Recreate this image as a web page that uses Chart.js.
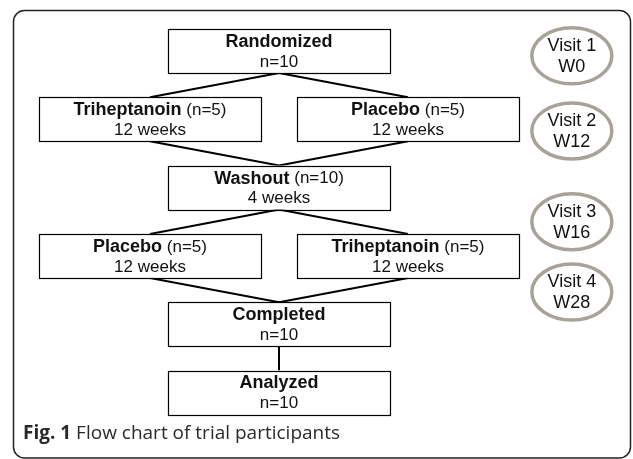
<!DOCTYPE html>
<html>
<head>
<meta charset="utf-8">
<script src="https://cdn.jsdelivr.net/npm/chart.js@4"></script>
<style>
  html, body { margin: 0; padding: 0; background: #fff; }
  #wrap { width: 633px; height: 459px; }
</style>
</head>
<body>
<div id="wrap"><canvas id="flowChart" width="633" height="459"></canvas></div>
<script>
// Flow chart data
const nodeBold = ['Randomized', 'Triheptanoin', 'Placebo', 'Washout', 'Placebo', 'Triheptanoin', 'Completed', 'Analyzed'];
const nodeNote = ['', ' (n=5)', ' (n=5)', ' (n=10)', ' (n=5)', ' (n=5)', '', ''];
const nodeSub = ['n=10', '12 weeks', '12 weeks', '4 weeks', '12 weeks', '12 weeks', 'n=10', 'n=10'];
const nodeCol = [1, 0, 2, 1, 0, 2, 1, 1];
const nodeRow = [0, 1, 1, 2, 3, 3, 4, 5];
const links = [[0, 1], [0, 2], [1, 3], [2, 3], [3, 4], [3, 5], [4, 6], [5, 6], [6, 7]];

const visitLabels = ['Visit 1', 'Visit 2', 'Visit 3', 'Visit 4'];
const visitWeeks = ['W0', 'W12', 'W16', 'W28'];
const visitCol = [3.27, 3.27, 3.27, 3.27];
const visitRow = [0.07, 1.17, 2.5, 3.53];

const captionBold = 'Fig. 1';
const captionText = ' Flow chart of trial participants';

// Sizes (px)
const BOX_W = 222, BOX_H = 44;
const VISIT_RX = 40, VISIT_RY = 28;
const FONT = '"Liberation Sans", Arial, sans-serif';

const flowPlugin = {
    id: 'flowPlugin',
    beforeDraw(chart) {
        const ctx = chart.ctx;
        ctx.save();
        ctx.fillStyle = '#fff';
        ctx.fillRect(0, 0, chart.width, chart.height);
        // outer frame
        ctx.strokeStyle = '#222';
        ctx.lineWidth = 1.5;
        ctx.beginPath();
        ctx.roundRect(13.5, 10.5, 617, 447.5, 11);
        ctx.stroke();
        ctx.restore();
    },
    afterDatasetsDraw(chart) {
        const ctx = chart.ctx;
        const xs = chart.scales.x, ys = chart.scales.y;
        const px = i => xs.getPixelForValue(nodeCol[i]);
        const py = i => ys.getPixelForValue(nodeRow[i]);
        ctx.save();

        // connectors
        ctx.strokeStyle = '#000';
        ctx.lineWidth = 2;
        links.forEach(([a, b]) => {
            ctx.beginPath();
            ctx.moveTo(px(a), py(a) + BOX_H / 2);
            ctx.lineTo(px(b), py(b) - BOX_H / 2);
            ctx.stroke();
        });

        // boxes
        ctx.lineWidth = 1.2;
        ctx.textBaseline = 'middle';
        const boldFont = 'bold 18px ' + FONT;
        const normFont = '17px ' + FONT;
        nodeBold.forEach((label, i) => {
            const cx = px(i), cy = py(i);
            ctx.fillStyle = '#fff';
            ctx.fillRect(cx - BOX_W / 2, cy - BOX_H / 2, BOX_W, BOX_H);
            ctx.strokeRect(Math.round(cx - BOX_W / 2) + 0.5, Math.round(cy - BOX_H / 2) + 0.5, BOX_W, BOX_H);

            ctx.fillStyle = '#111';
            ctx.font = boldFont;
            const wb = ctx.measureText(label).width;
            ctx.font = normFont;
            const wn = ctx.measureText(nodeNote[i]).width;
            const x0 = cx - (wb + wn) / 2;
            ctx.textAlign = 'left';
            ctx.font = boldFont;
            ctx.fillText(label, x0, cy - 9);
            ctx.font = normFont;
            ctx.fillText(nodeNote[i], x0 + wb, cy - 9);
            ctx.textAlign = 'center';
            ctx.fillText(nodeSub[i], cx, cy + 11);
        });

        // visit ellipses
        visitLabels.forEach((label, i) => {
            const cx = xs.getPixelForValue(visitCol[i]);
            const cy = ys.getPixelForValue(visitRow[i]);
            ctx.strokeStyle = '#a8a39a';
            ctx.lineWidth = 3.5;
            ctx.beginPath();
            ctx.ellipse(cx, cy, VISIT_RX, VISIT_RY, 0, 0, Math.PI * 2);
            ctx.stroke();
            ctx.fillStyle = '#111';
            ctx.font = '18px ' + FONT;
            ctx.textAlign = 'center';
            ctx.fillText(label, cx, cy - 10);
            ctx.fillText(visitWeeks[i], cx, cy + 11);
        });

        // caption
        ctx.textAlign = 'left';
        ctx.fillStyle = '#2a2a2a';
        ctx.font = 'bold 19px "Open Sans", sans-serif';
        ctx.fillText(captionBold, 23, 434);
        const wc = ctx.measureText(captionBold).width;
        ctx.font = '19px "Open Sans", sans-serif';
        ctx.fillText(captionText, 23 + wc, 434);
        ctx.restore();
    }
};

new Chart(document.getElementById('flowChart').getContext('2d'), {
    type: 'scatter',
    data: {
        datasets: [{
            label: 'Steps',
            data: nodeCol.map((c, i) => ({ x: c, y: nodeRow[i] })),
            pointRadius: 0
        }, {
            label: 'Visits',
            data: visitCol.map((c, i) => ({ x: c, y: visitRow[i] })),
            pointRadius: 0
        }]
    },
    options: {
        responsive: false,
        animation: false,
        layout: { padding: 0 },
        plugins: {
            legend: { display: false },
            tooltip: { enabled: false }
        },
        scales: {
            x: { display: false, min: -150 / 129, max: -150 / 129 + 633 / 129 },
            y: { display: false, reverse: true, min: -51 / 68.3, max: -51 / 68.3 + 459 / 68.3 }
        }
    },
    plugins: [flowPlugin]
});
</script>
</body>
</html>
